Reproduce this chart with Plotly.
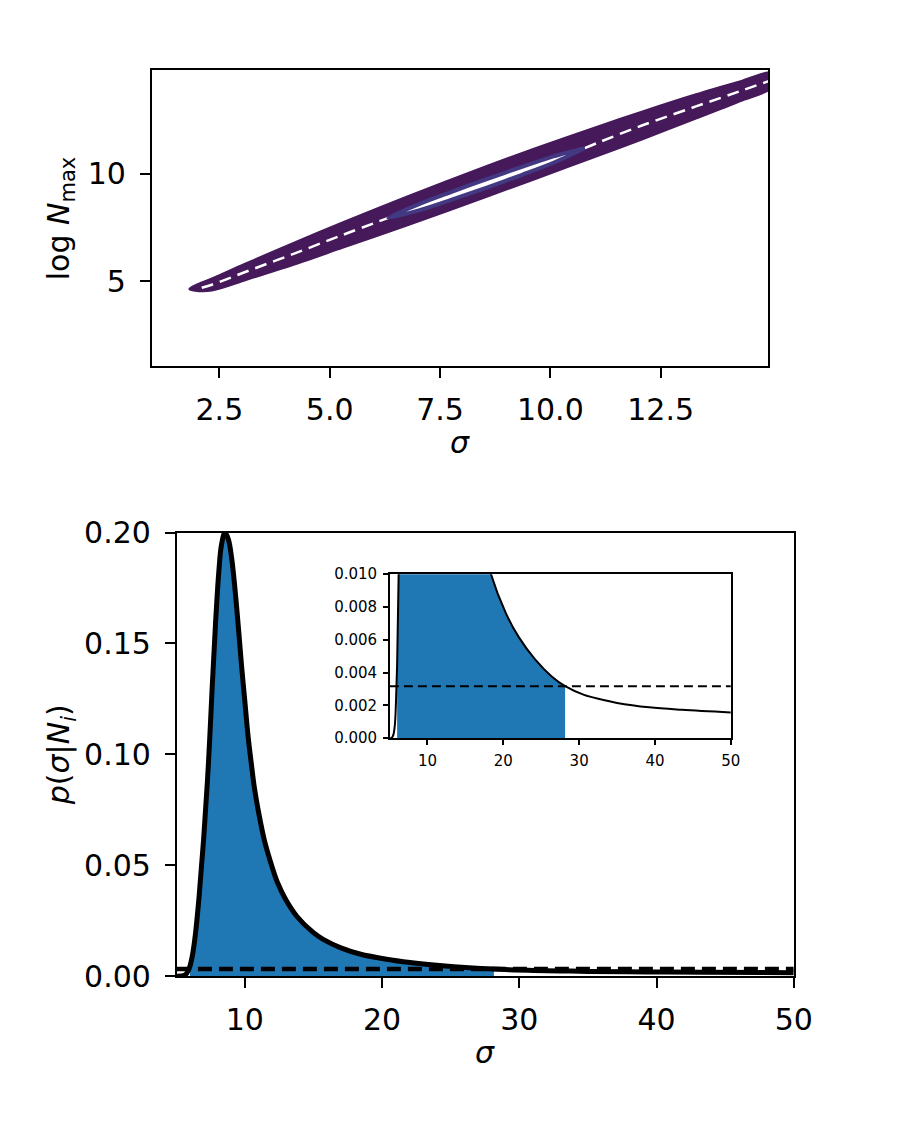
import plotly.graph_objects as go

# ---------------- Top panel: contour outlines (sigma vs log N_max) ----------------
outer_upper_sigma = [1.82, 1.95, 2.33, 3.07, 4.18, 5.29, 6.70, 8.62, 9.66, 11.13, 12.09, 13.30, 14.31, 15.02]
outer_upper_logn = [4.63, 4.80, 5.12, 5.80, 6.78, 7.74, 8.90, 10.42, 11.20, 12.25, 12.92, 13.72, 14.33, 14.74]
outer_lower_sigma = [1.82, 1.95, 2.33, 3.07, 4.18, 5.29, 6.70, 8.62, 9.66, 11.13, 12.09, 13.30, 14.31, 15.02]
outer_lower_logn = [4.63, 4.55, 4.56, 5.03, 5.76, 6.55, 7.55, 8.98, 9.76, 10.88, 11.62, 12.58, 13.40, 14.02]

gap_left_sigma = [2.10, 2.33, 3.07, 4.18, 5.29, 6.33]
gap_left_logn = [4.69, 4.83, 5.41, 6.27, 7.15, 7.95]
gap_right_sigma = [10.78, 11.13, 12.09, 13.30, 14.31, 15.02]
gap_right_logn = [11.20, 11.50, 12.27, 13.15, 13.87, 14.38]

inner_upper_sigma = [6.33, 7.04, 7.75, 8.56, 9.36, 10.07, 10.78]
inner_upper_logn = [7.95, 8.60, 9.15, 9.76, 10.33, 10.82, 11.20]
inner_lower_sigma = [6.33, 7.04, 7.75, 8.56, 9.36, 10.07, 10.78]
inner_lower_logn = [7.95, 8.31, 8.79, 9.36, 9.96, 10.52, 11.20]

top_x_ticks = [2.5, 5.0, 7.5, 10.0, 12.5]
top_x_labels = ["2.5", "5.0", "7.5", "10.0", "12.5"]
top_y_ticks = [5, 10]
top_y_labels = ["5", "10"]

# ---------------- Bottom panel: posterior p(sigma | N_i) ----------------
sigma = [5.05, 5.30, 5.50, 5.70, 5.85, 6.00, 6.20, 6.40, 6.67, 7.00, 7.34, 7.62, 7.86, 8.10, 8.30,
         8.55, 8.80, 9.05, 9.41, 9.76, 10.00, 10.24, 10.50, 10.71, 11.00, 11.43, 12.00, 12.38,
         13.00, 13.80, 15.00, 15.71, 17.00, 18.38, 20.32, 22.04, 24.19, 26.34, 28.15, 30.64,
         33.00, 35.00, 39.24, 43.55, 50.00]
p_sigma = [0.0, 0.00003, 0.0002, 0.0008, 0.0022, 0.0045, 0.0100, 0.019, 0.036, 0.062, 0.095, 0.130, 0.1585, 0.182, 0.1945,
           0.200, 0.197, 0.188, 0.166, 0.140, 0.124, 0.108, 0.0945, 0.0844, 0.0740, 0.0611, 0.0490, 0.0422,
           0.0343, 0.0269, 0.0196, 0.0166, 0.01275, 0.0100, 0.00764, 0.00616, 0.00480, 0.00378, 0.00317, 0.00264,
           0.00235, 0.00215, 0.00188, 0.00173, 0.00157]
threshold = 0.00317
fill_lo, fill_hi = 6.00, 28.15

bot_x_ticks = [10, 20, 30, 40, 50]
bot_y_ticks = [0.00, 0.05, 0.10, 0.15, 0.20]
bot_y_labels = ["0.00", "0.05", "0.10", "0.15", "0.20"]
inset_y_ticks = [0.000, 0.002, 0.004, 0.006, 0.008, 0.010]
inset_y_labels = ["0.000", "0.002", "0.004", "0.006", "0.008", "0.010"]

OUTER = "#45195a"
INNER = "#433983"
BLUE = "#1f77b4"
FONT = "DejaVu Sans"

# page has an 8px body margin: make the figure fit the 901x1130 window exactly
PAD = 8
W, H = 901 - 2 * PAD, 1130 - 2 * PAD


def fx(px):
    return (px - PAD) / W


def fy(py):
    return 1 - (py - PAD) / H


fig = go.Figure()

# top contours
fig.add_trace(go.Scatter(
    x=outer_upper_sigma + outer_lower_sigma[::-1],
    y=outer_upper_logn + outer_lower_logn[::-1],
    mode="lines", fill="toself", fillcolor=OUTER,
    line=dict(color=OUTER, width=2, shape="spline", smoothing=0.8),
    xaxis="x", yaxis="y", hoverinfo="skip"))
for gx, gy in [(gap_left_sigma, gap_left_logn), (gap_right_sigma, gap_right_logn)]:
    fig.add_trace(go.Scatter(
        x=gx, y=gy, mode="lines",
        line=dict(color="white", width=2.5, dash="12px,7px", shape="spline"),
        xaxis="x", yaxis="y", hoverinfo="skip"))
fig.add_trace(go.Scatter(
    x=inner_upper_sigma + inner_lower_sigma[::-1],
    y=inner_upper_logn + inner_lower_logn[::-1],
    mode="lines", fill="toself", fillcolor="white",
    line=dict(color=INNER, width=4, shape="spline", smoothing=0.8),
    xaxis="x", yaxis="y", hoverinfo="skip"))

# bottom main + inset
fill_x = [s for s in sigma if fill_lo <= s <= fill_hi]
fill_y = [p for s, p in zip(sigma, p_sigma) if fill_lo <= s <= fill_hi]

for xa, ya, lw, dlw, dash in [("x2", "y2", 5, 4.5, "14px,7px"), ("x3", "y3", 2, 2, "9px,5px")]:
    fig.add_trace(go.Scatter(
        x=fill_x, y=fill_y, mode="lines", fill="tozeroy", fillcolor=BLUE,
        line=dict(color=BLUE, width=0, shape="spline", smoothing=1.0),
        xaxis=xa, yaxis=ya, hoverinfo="skip"))
    fig.add_trace(go.Scatter(
        x=sigma, y=p_sigma, mode="lines",
        line=dict(color="black", width=lw, shape="spline", smoothing=1.0),
        xaxis=xa, yaxis=ya, hoverinfo="skip"))
    fig.add_trace(go.Scatter(
        x=[sigma[0], sigma[-1]], y=[threshold, threshold], mode="lines",
        line=dict(color="black", width=dlw, dash=dash),
        xaxis=xa, yaxis=ya, hoverinfo="skip"))

axis_common = dict(showline=True, mirror=True, linecolor="black", linewidth=2,
                   ticks="outside", ticklen=10, tickwidth=2, tickcolor="black",
                   showgrid=False, zeroline=False,
                   tickfont=dict(family=FONT, size=30, color="black"))
inset_common = dict(showline=True, mirror=True, linecolor="black", linewidth=1.5,
                    ticks="outside", ticklen=5, tickwidth=1.5, tickcolor="black",
                    showgrid=False, zeroline=False,
                    tickfont=dict(family=FONT, size=15, color="black"))

fig.update_layout(
    width=W, height=H,
    margin=dict(l=0, r=0, t=0, b=0),
    paper_bgcolor="white", plot_bgcolor="white",
    showlegend=False,
    font=dict(family=FONT, color="black"),
    xaxis=dict(domain=[fx(155), fx(785)], range=[0.97, 14.94], anchor="y",
               tickvals=top_x_ticks, ticktext=top_x_labels, ticklabelstandoff=6, **axis_common),
    yaxis=dict(domain=[fy(360), fy(54)], range=[1.04, 14.87], anchor="x",
               tickvals=top_y_ticks, ticktext=top_y_labels, ticklabelstandoff=8, **axis_common),
    xaxis2=dict(domain=[fx(180.6), fx(811)], range=[5.05, 50], anchor="y2",
                tickvals=bot_x_ticks, ticklabelstandoff=6, **axis_common),
    yaxis2=dict(domain=[fy(990), fy(532)], range=[0, 0.2], anchor="x2",
                tickvals=bot_y_ticks, ticktext=bot_y_labels, ticklabelstandoff=8, **axis_common),
    xaxis3=dict(domain=[fx(398.3), fx(746.7)], range=[5.05, 50], anchor="y3",
                tickvals=bot_x_ticks, ticklabelstandoff=3, **inset_common),
    yaxis3=dict(domain=[fy(744.3), fy(575)], range=[0, 0.01], anchor="x3",
                tickvals=inset_y_ticks, ticktext=inset_y_labels, ticklabelstandoff=3, **inset_common),
)

lab_font = dict(family=FONT, size=30, color="black")
annotations = [
    dict(text="log <i>N</i><sub>max</sub>", x=fx(61.7), y=fy(208), textangle=-90),
    dict(text="<i>σ</i>", x=fx(470), y=fy(439), textangle=0),
    dict(text="<i>σ</i>", x=fx(495.8), y=fy(1069), textangle=0),
    dict(text="<i>p</i>(<i>σ</i>|<i>N<sub>i</sub></i>)", x=fx(62), y=fy(761), textangle=-90),
]
for a in annotations:
    fig.add_annotation(xref="paper", yref="paper", showarrow=False,
                       xanchor="center", yanchor="middle", font=lab_font, **a)

fig.write_html("out.html")
